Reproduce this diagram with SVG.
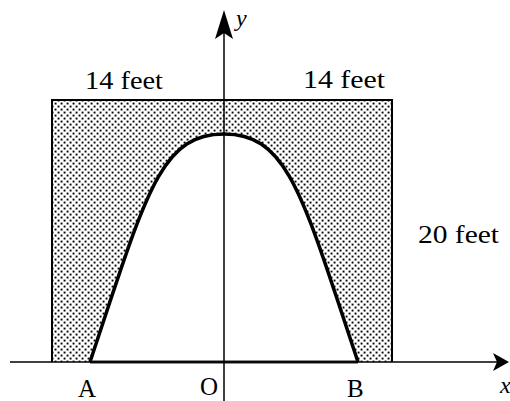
<svg xmlns="http://www.w3.org/2000/svg" width="510" height="401" viewBox="0 0 510 401">
  <style>
    .lbl { font-family: "Liberation Serif", "Times New Roman", serif; font-size: 25px; fill: #000; }
    .ital { font-family: "Liberation Serif", "Times New Roman", serif; font-style: italic; font-size: 24px; fill: #000; }
    .axis { stroke: #000; stroke-width: 1.5; fill: none; }
    .arrow { fill: #000; stroke: none; }
  </style>
  <defs>
    <pattern id="dots" x="0" y="0" width="6" height="6" patternUnits="userSpaceOnUse">
      <rect x="0.6" y="0.6" width="1.9" height="1.9" fill="#000"/>
      <rect x="3.6" y="3.6" width="1.9" height="1.9" fill="#000"/>
    </pattern>
  </defs>
  <rect width="510" height="401" fill="#fff"/>

  <g id="shaded-region">
    <rect x="52" y="100" width="340" height="262" fill="url(#dots)" stroke="none"/>
    <path d="M90,362 C146,194 160,134 224,134 C288,134 302,194 358,362 Z" fill="#fff" stroke="none"/>
    <path d="M52,362 L52,100 L392,100 L392,362" fill="none" stroke="#000" stroke-width="2"/>
  </g>

  <g id="arch">
    <path d="M90,362 C146,194 160,134 224,134 C288,134 302,194 358,362" fill="none" stroke="#000" stroke-width="3.5"/>
    <line x1="90" y1="362" x2="358" y2="362" stroke="#222" stroke-width="3"/>
  </g>

  <g id="connectors">
    <line class="axis" x1="10" y1="362" x2="498" y2="362"/>
    <line class="axis" x1="224" y1="401" x2="224" y2="20"/>
    <polygon class="arrow" points="224,10 233,39 224,33 215,39"/>
    <polygon class="arrow" points="509,362 493,353 497,362 493,371"/>
  </g>

  <g id="labels">
    <text class="lbl" x="85" y="89" textLength="78" lengthAdjust="spacingAndGlyphs">14 feet</text>
    <text class="lbl" x="303" y="88" textLength="82" lengthAdjust="spacingAndGlyphs">14 feet</text>
    <text class="lbl" x="418" y="243" textLength="81" lengthAdjust="spacingAndGlyphs">20 feet</text>
    <text class="ital" x="236" y="26">y</text>
    <text class="ital" x="500" y="393">x</text>
    <text class="lbl" x="78" y="397">A</text>
    <text class="lbl" x="200" y="395">O</text>
    <text class="lbl" x="347" y="397">B</text>
  </g>
</svg>
